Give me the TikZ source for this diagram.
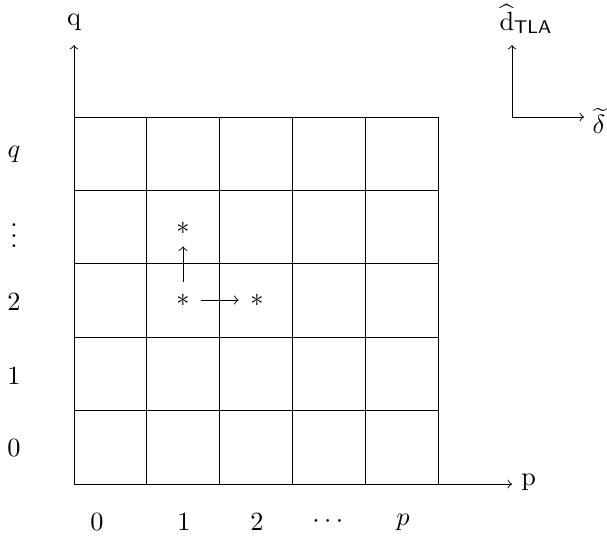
\documentclass[tikz,border=0pt]{standalone}
\usepackage{amsmath,amssymb}
\begin{document}
\begin{tikzpicture}[x=0.38pt,y=-0.38pt,line width=0.35pt,
  lab/.style={inner sep=0pt},
  star/.style={circle,minimum size=13.6pt,inner sep=0pt}]
\useasboundingbox (0,0) rectangle (607,538);
% grid
\foreach \i in {1,...,5}{
  \draw ({74+72.8*\i},117) -- ({74+72.8*\i},484);
}
\foreach \j in {0,...,4}{
  \draw (74,{117+73.4*\j}) -- (438,{117+73.4*\j});
}
% axes
\coordinate (O) at (74,484);
\coordinate (qtip) at (74,45);
\coordinate (ptip) at (512,484);
\draw[->] (O) -- (qtip);
\draw[->] (O) -- (ptip);
\node[lab,anchor=south] (qlab) at (74,31) {$\mathrm{q}$};
\node[lab,anchor=west] (plab) at (521,482) {$\mathrm{p}$};
% left labels
\node[lab] (lq) at (14,154) {$q$};
\node[lab] (ldots) at (14,228) {$\vdots$};
\node[lab] (l2) at (14,302) {$2$};
\node[lab] (l1) at (14,376) {$1$};
\node[lab] (l0) at (14,448) {$0$};
% bottom labels
\node[lab] (b0) at (97,522) {$0$};
\node[lab] (b1) at (184,522) {$1$};
\node[lab] (b2) at (257,522) {$2$};
\node[lab] (bdots) at (330,522) {$\cdots$};
\node[lab] (bp) at (403,522) {$p$};
% stars
\node[star] (s1) at (183,228) {$*$};
\node[star] (s2) at (183,300) {$*$};
\node[star] (s3) at (257,300) {$*$};
\draw[->] (s2) -- (s1);
\draw[->] (s2) -- (s3);
% top-right axes
\coordinate (c) at (512,117);
\coordinate (dtip) at (512,45);
\coordinate (etip) at (584,117);
\draw[->] (c) -- (dtip);
\draw[->] (c) -- (etip);
\node[lab] (dlab) at (526,19) {$\widehat{\mathrm{d}}_{\mathsf{TLA}}$};
\node[lab] (elab) at (599,121) {$\widetilde{\delta}$};
\end{tikzpicture}
\end{document}
